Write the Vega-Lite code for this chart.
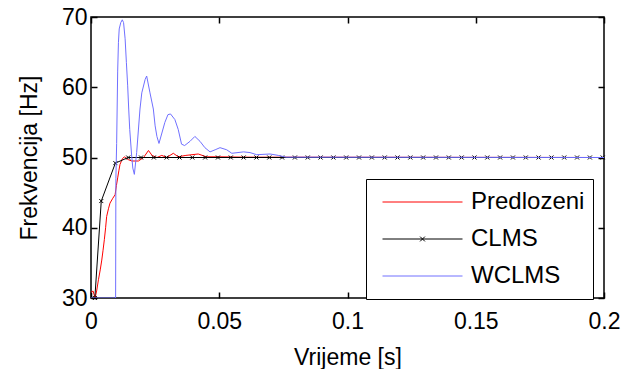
{
  "$schema": "https://vega.github.io/schema/vega-lite/v6.json",
  "width": 513,
  "height": 281,
  "autosize": "none",
  "padding": {"left": 91, "top": 17, "right": 40, "bottom": 71},
  "background": "white",
  "config": {
    "view": {"stroke": "black", "strokeWidth": 1.5},
    "font": "Liberation Sans",
    "axis": {
      "labelFont": "Liberation Sans", "titleFont": "Liberation Sans",
      "labelFontSize": 23, "titleFontSize": 23, "titleFontWeight": "normal",
      "labelColor": "black", "titleColor": "black",
      "domain": false, "ticks": true, "tickColor": "black", "tickWidth": 1.5, "grid": false,
      "tickSize": 6, "offset": -6, "labelFlush": false, "labelOverlap": false
    }
  },
  "data": {"values": [
    {"t": 0, "f": 30.8, "s": "Predlozeni"},
    {"t": 0.0008, "f": 31.0, "s": "Predlozeni"},
    {"t": 0.0016, "f": 30.0, "s": "Predlozeni"},
    {"t": 0.0022, "f": 31.0, "s": "Predlozeni"},
    {"t": 0.0029, "f": 32.6, "s": "Predlozeni"},
    {"t": 0.0036, "f": 34.0, "s": "Predlozeni"},
    {"t": 0.0042, "f": 35.4, "s": "Predlozeni"},
    {"t": 0.0047, "f": 36.8, "s": "Predlozeni"},
    {"t": 0.0052, "f": 38.3, "s": "Predlozeni"},
    {"t": 0.0057, "f": 40.0, "s": "Predlozeni"},
    {"t": 0.0061, "f": 41.6, "s": "Predlozeni"},
    {"t": 0.0068, "f": 42.7, "s": "Predlozeni"},
    {"t": 0.0074, "f": 43.5, "s": "Predlozeni"},
    {"t": 0.0085, "f": 44.2, "s": "Predlozeni"},
    {"t": 0.0094, "f": 44.7, "s": "Predlozeni"},
    {"t": 0.0099, "f": 46.0, "s": "Predlozeni"},
    {"t": 0.0104, "f": 47.1, "s": "Predlozeni"},
    {"t": 0.0109, "f": 48.2, "s": "Predlozeni"},
    {"t": 0.0113, "f": 49.0, "s": "Predlozeni"},
    {"t": 0.0122, "f": 49.8, "s": "Predlozeni"},
    {"t": 0.0130, "f": 50.1, "s": "Predlozeni"},
    {"t": 0.0145, "f": 49.7, "s": "Predlozeni"},
    {"t": 0.0159, "f": 49.5, "s": "Predlozeni"},
    {"t": 0.0185, "f": 49.5, "s": "Predlozeni"},
    {"t": 0.0205, "f": 50.0, "s": "Predlozeni"},
    {"t": 0.0224, "f": 51.0, "s": "Predlozeni"},
    {"t": 0.0238, "f": 50.3, "s": "Predlozeni"},
    {"t": 0.0257, "f": 50.0, "s": "Predlozeni"},
    {"t": 0.0276, "f": 50.3, "s": "Predlozeni"},
    {"t": 0.0295, "f": 50.0, "s": "Predlozeni"},
    {"t": 0.0321, "f": 50.6, "s": "Predlozeni"},
    {"t": 0.0340, "f": 50.1, "s": "Predlozeni"},
    {"t": 0.0370, "f": 50.3, "s": "Predlozeni"},
    {"t": 0.0418, "f": 50.5, "s": "Predlozeni"},
    {"t": 0.0450, "f": 50.1, "s": "Predlozeni"},
    {"t": 0.0500, "f": 50.1, "s": "Predlozeni"},
    {"t": 0.0600, "f": 50.05, "s": "Predlozeni"},
    {"t": 0.2, "f": 50.0, "s": "Predlozeni"},

    {"t": 0.0015, "f": 30.0, "s": "CLMS"},
    {"t": 0.0040, "f": 43.8, "s": "CLMS"},
    {"t": 0.0095, "f": 49.2, "s": "CLMS"},
    {"t": 0.0145, "f": 50, "s": "CLMS"},
    {"t": 0.0195, "f": 50, "s": "CLMS"},
    {"t": 0.0245, "f": 50, "s": "CLMS"},
    {"t": 0.0295, "f": 50, "s": "CLMS"},
    {"t": 0.0345, "f": 50, "s": "CLMS"},
    {"t": 0.0395, "f": 50, "s": "CLMS"},
    {"t": 0.0445, "f": 50, "s": "CLMS"},
    {"t": 0.0495, "f": 50, "s": "CLMS"},
    {"t": 0.0545, "f": 50, "s": "CLMS"},
    {"t": 0.0595, "f": 50, "s": "CLMS"},
    {"t": 0.0645, "f": 50, "s": "CLMS"},
    {"t": 0.0695, "f": 50, "s": "CLMS"},
    {"t": 0.0745, "f": 50, "s": "CLMS"},
    {"t": 0.0795, "f": 50, "s": "CLMS"},
    {"t": 0.0845, "f": 50, "s": "CLMS"},
    {"t": 0.0895, "f": 50, "s": "CLMS"},
    {"t": 0.0945, "f": 50, "s": "CLMS"},
    {"t": 0.0995, "f": 50, "s": "CLMS"},
    {"t": 0.1045, "f": 50, "s": "CLMS"},
    {"t": 0.1095, "f": 50, "s": "CLMS"},
    {"t": 0.1145, "f": 50, "s": "CLMS"},
    {"t": 0.1195, "f": 50, "s": "CLMS"},
    {"t": 0.1245, "f": 50, "s": "CLMS"},
    {"t": 0.1295, "f": 50, "s": "CLMS"},
    {"t": 0.1345, "f": 50, "s": "CLMS"},
    {"t": 0.1395, "f": 50, "s": "CLMS"},
    {"t": 0.1445, "f": 50, "s": "CLMS"},
    {"t": 0.1495, "f": 50, "s": "CLMS"},
    {"t": 0.1545, "f": 50, "s": "CLMS"},
    {"t": 0.1595, "f": 50, "s": "CLMS"},
    {"t": 0.1645, "f": 50, "s": "CLMS"},
    {"t": 0.1695, "f": 50, "s": "CLMS"},
    {"t": 0.1745, "f": 50, "s": "CLMS"},
    {"t": 0.1795, "f": 50, "s": "CLMS"},
    {"t": 0.1845, "f": 50, "s": "CLMS"},
    {"t": 0.1895, "f": 50, "s": "CLMS"},
    {"t": 0.1945, "f": 50, "s": "CLMS"},
    {"t": 0.1995, "f": 50, "s": "CLMS"},

    {"t": 0, "f": 30, "s": "WCLMS"},
    {"t": 0.0096, "f": 30, "s": "WCLMS"},
    {"t": 0.0097, "f": 47, "s": "WCLMS"},
    {"t": 0.0100, "f": 52, "s": "WCLMS"},
    {"t": 0.0104, "f": 62.3, "s": "WCLMS"},
    {"t": 0.0107, "f": 66.4, "s": "WCLMS"},
    {"t": 0.0110, "f": 68.3, "s": "WCLMS"},
    {"t": 0.0116, "f": 69.2, "s": "WCLMS"},
    {"t": 0.0122, "f": 69.6, "s": "WCLMS"},
    {"t": 0.0127, "f": 69.2, "s": "WCLMS"},
    {"t": 0.0133, "f": 66.9, "s": "WCLMS"},
    {"t": 0.0138, "f": 63.5, "s": "WCLMS"},
    {"t": 0.0143, "f": 60.2, "s": "WCLMS"},
    {"t": 0.0147, "f": 56.9, "s": "WCLMS"},
    {"t": 0.0151, "f": 54.0, "s": "WCLMS"},
    {"t": 0.0158, "f": 50.5, "s": "WCLMS"},
    {"t": 0.0163, "f": 48.5, "s": "WCLMS"},
    {"t": 0.0169, "f": 47.6, "s": "WCLMS"},
    {"t": 0.0178, "f": 50.7, "s": "WCLMS"},
    {"t": 0.0191, "f": 56.9, "s": "WCLMS"},
    {"t": 0.0198, "f": 59.2, "s": "WCLMS"},
    {"t": 0.0211, "f": 61.1, "s": "WCLMS"},
    {"t": 0.0217, "f": 61.6, "s": "WCLMS"},
    {"t": 0.0230, "f": 59.2, "s": "WCLMS"},
    {"t": 0.0243, "f": 56.9, "s": "WCLMS"},
    {"t": 0.0250, "f": 54.5, "s": "WCLMS"},
    {"t": 0.0257, "f": 53.0, "s": "WCLMS"},
    {"t": 0.0265, "f": 52.0, "s": "WCLMS"},
    {"t": 0.0288, "f": 55.0, "s": "WCLMS"},
    {"t": 0.0300, "f": 56.1, "s": "WCLMS"},
    {"t": 0.0310, "f": 56.2, "s": "WCLMS"},
    {"t": 0.0327, "f": 55.4, "s": "WCLMS"},
    {"t": 0.0340, "f": 54.0, "s": "WCLMS"},
    {"t": 0.0353, "f": 51.9, "s": "WCLMS"},
    {"t": 0.0365, "f": 51.7, "s": "WCLMS"},
    {"t": 0.0386, "f": 52.3, "s": "WCLMS"},
    {"t": 0.0405, "f": 53.0, "s": "WCLMS"},
    {"t": 0.0425, "f": 52.3, "s": "WCLMS"},
    {"t": 0.0444, "f": 51.4, "s": "WCLMS"},
    {"t": 0.0464, "f": 50.8, "s": "WCLMS"},
    {"t": 0.0484, "f": 51.1, "s": "WCLMS"},
    {"t": 0.0503, "f": 51.4, "s": "WCLMS"},
    {"t": 0.0529, "f": 51.1, "s": "WCLMS"},
    {"t": 0.0549, "f": 50.6, "s": "WCLMS"},
    {"t": 0.0595, "f": 50.8, "s": "WCLMS"},
    {"t": 0.0620, "f": 50.7, "s": "WCLMS"},
    {"t": 0.0646, "f": 50.4, "s": "WCLMS"},
    {"t": 0.0698, "f": 50.5, "s": "WCLMS"},
    {"t": 0.0730, "f": 50.3, "s": "WCLMS"},
    {"t": 0.0760, "f": 50.05, "s": "WCLMS"},
    {"t": 0.2, "f": 50.0, "s": "WCLMS"}
  ]},
  "layer": [
    {
      "transform": [{"filter": "datum.s === 'Predlozeni'"}],
      "mark": {"type": "line", "strokeWidth": 1, "clip": true},
      "encoding": {
        "x": {"field": "t", "type": "quantitative", "scale": {"domain": [0, 0.2], "nice": false, "zero": false},
              "axis": {"orient": "bottom", "title": "Vrijeme [s]", "values": [0, 0.05, 0.1, 0.15, 0.2], "format": "~g", "labelPadding": 12, "titlePadding": 13}},
        "y": {"field": "f", "type": "quantitative", "scale": {"domain": [30, 70], "nice": false, "zero": false},
              "axis": {"orient": "left", "title": "Frekvencija [Hz]", "values": [30, 40, 50, 60, 70], "labelPadding": 4, "titlePadding": 20}},
        "color": {"field": "s", "type": "nominal",
                  "scale": {"domain": ["Predlozeni", "CLMS", "WCLMS"], "range": ["#ff0000", "#000000", "#7070ff"]},
                  "legend": {
                    "title": null, "orient": "none", "legendX": 275, "legendY": 162,
                    "strokeColor": "black", "fillColor": "white", "padding": 8,
                    "symbolSize": 6400, "symbolStrokeWidth": 1, "symbolType": "stroke",
                    "clipHeight": 30, "rowPadding": 7, "symbolOffset": 8,
                    "labelFont": "Liberation Sans", "labelFontSize": 24, "labelOffset": 8, "labelColor": "black",
                    "encode": {"symbols": {"update": {"shape": {"signal": "datum.value === 'CLMS' ? 'M-1,0H1M-0.06,-0.06L0.06,0.06M-0.06,0.06L0.06,-0.06' : 'M-1,0H1'"}}}}
                  }}
      }
    },
    {
      "transform": [{"filter": "datum.s === 'CLMS'"}],
      "mark": {"type": "line", "strokeWidth": 1, "clip": true},
      "encoding": {
        "x": {"field": "t", "type": "quantitative", "axis": null},
        "y": {"field": "f", "type": "quantitative", "axis": null},
        "color": {"field": "s", "type": "nominal"}
      }
    },
    {
      "transform": [{"filter": "datum.s === 'CLMS'"}],
      "mark": {"type": "point", "shape": "M-1,-1L1,1M-1,1L1,-1", "size": 16, "filled": false, "stroke": "black", "strokeWidth": 1, "opacity": 1},
      "encoding": {
        "x": {"field": "t", "type": "quantitative", "axis": {"orient": "top", "labels": false, "title": null, "values": [0, 0.05, 0.1, 0.15, 0.2]}},
        "y": {"field": "f", "type": "quantitative", "axis": {"orient": "right", "labels": false, "title": null, "values": [30, 40, 50, 60, 70]}}
      }
    },
    {
      "transform": [{"filter": "datum.s === 'WCLMS'"}],
      "mark": {"type": "line", "strokeWidth": 1, "clip": true},
      "encoding": {
        "x": {"field": "t", "type": "quantitative", "axis": null},
        "y": {"field": "f", "type": "quantitative", "axis": null},
        "color": {"field": "s", "type": "nominal"}
      }
    }
  ],
  "resolve": {"axis": {"x": "independent", "y": "independent"}}
}
